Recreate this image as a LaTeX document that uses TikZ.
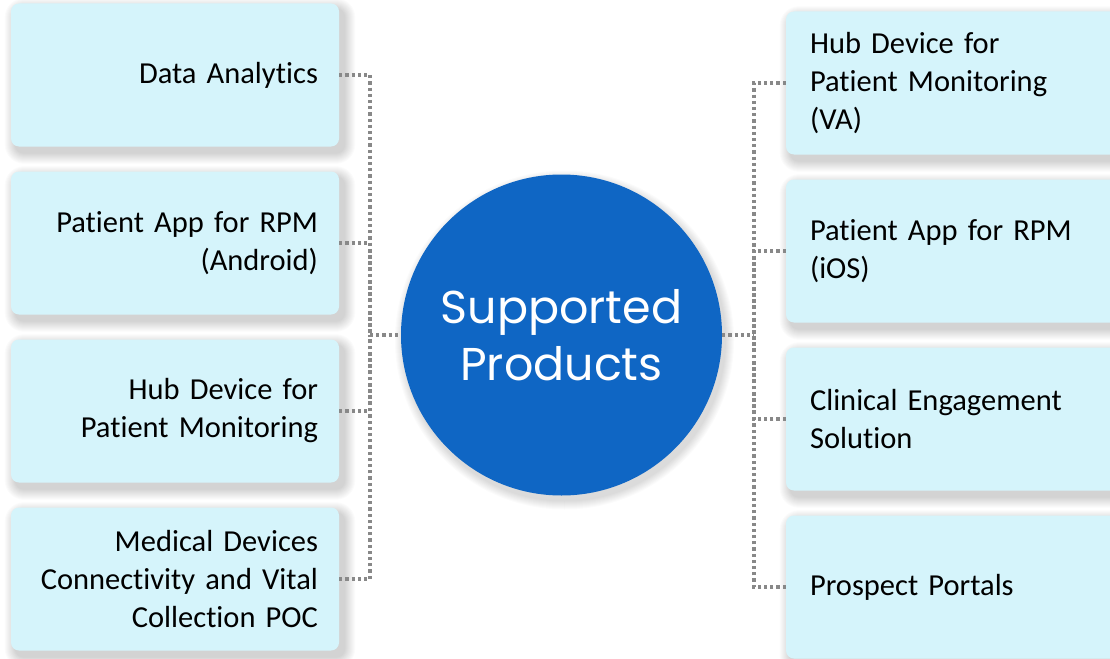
\documentclass[tikz,border=0pt]{standalone}
\usepackage{fontspec}
\setmainfont{Carlito}[Ligatures={NoCommon}, WordSpace={0.8}]
\newfontfamily\circfont{Poppins}
\definecolor{boxfill}{HTML}{D5F4FB}
\definecolor{circfill}{HTML}{0F66C4}
\definecolor{dotgray}{HTML}{888888}
\pgfdeclarelayer{paper}
\pgfdeclarelayer{background}
\pgfsetlayers{paper,background,main}
\tikzset{
  prod/.style={rectangle, rounded corners=8pt, fill=boxfill, minimum height=143pt,
    inner sep=0pt, font=\fontsize{30.5}{38}\selectfont},
  lbox/.style={prod, minimum width=328pt, text width=286pt, align=right},
  rbox/.style={prod, minimum width=339pt, text width=291pt, align=left},
  dotline/.style={draw=dotgray, line width=3.2pt, dash pattern=on 3.2pt off 3pt},
  hubcirc/.style={circle, fill=circfill, minimum size=321pt, inner sep=0pt,
    text=white, align=center, font=\circfont\fontsize{46}{57}\selectfont},
  shadowlayer/.style={fill=black, opacity=0.017}
}
\newcommand\boxshadow[1]{%
  \begin{pgfonlayer}{background}
  \foreach \i in {1,...,11}{
    \fill[shadowlayer, rounded corners=8pt+\i pt]
      ([xshift=5pt-\i pt, yshift=-6pt+\i pt]#1.north west) rectangle
      ([xshift=5pt+\i pt, yshift=-6pt-\i pt]#1.south east);
  }
  \end{pgfonlayer}}
\begin{document}
\begin{tikzpicture}[x=1pt,y=-1pt]
\useasboundingbox (0,0) rectangle (1110,658);
\begin{pgfonlayer}{paper}
\fill[white] (0,0) rectangle (1110,658);
\end{pgfonlayer}
% left boxes
\node[lbox] (L1) at (175,75) {Data Analytics};
\node[lbox] (L2) at (175,243) {Patient App for RPM\\(Android)};
\node[lbox] (L3) at (175,411) {Hub Device for\\Patient Monitoring};
\node[lbox] (L4) at (175,579) {Medical Devices\\Connectivity and Vital\\Collection POC};
% right boxes
\node[rbox] (R1) at (955.5,83) {Hub Device for\\Patient Monitoring\\(VA)};
\node[rbox] (R2) at (955.5,251) {Patient App for RPM\\(iOS)};
\node[rbox] (R3) at (955.5,419) {Clinical Engagement\\Solution};
\node[rbox] (R4) at (955.5,587) {Prospect Portals};
% circle
\node[hubcirc] (C) at (561.5,335) {Supported\\Products};
% shadows
\boxshadow{L1}\boxshadow{L2}\boxshadow{L3}\boxshadow{L4}
\boxshadow{R1}\boxshadow{R2}\boxshadow{R3}\boxshadow{R4}
\begin{pgfonlayer}{background}
\foreach \i in {1,...,9}{
  \fill[shadowlayer] ([xshift=3pt, yshift=-5pt]C.center) circle[radius=160.5pt+\i pt];
}
\end{pgfonlayer}
% trunks
\coordinate (TL) at (370,335);
\coordinate (TR) at (754,335);
\draw[dotline] (L1.east) -| (TL);
\draw[dotline] (L2.east) -| (TL);
\draw[dotline] (L3.east) -| (TL);
\draw[dotline] (L4.east) -| (TL);
\draw[dotline] (TL) -- (C.west);
\draw[dotline] (R1.west) -| (TR);
\draw[dotline] (R2.west) -| (TR);
\draw[dotline] (R3.west) -| (TR);
\draw[dotline] (R4.west) -| (TR);
\draw[dotline] (C.east) -- (TR);
\end{tikzpicture}
\end{document}
